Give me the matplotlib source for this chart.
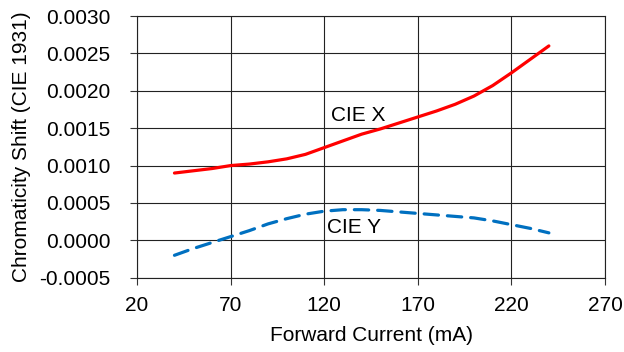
import matplotlib
matplotlib.use("Agg")
import matplotlib.pyplot as plt

current_ma = [40, 50, 60, 70, 80, 90, 100, 110, 120, 130, 140, 150, 160, 170, 180, 190, 200, 210, 220, 230, 240]
cie_x = [0.00090, 0.00093, 0.00096, 0.00100, 0.00102, 0.00105, 0.00109, 0.00115, 0.00124, 0.00133,
         0.00142, 0.00149, 0.00157, 0.00165, 0.00173, 0.00182, 0.00193, 0.00207, 0.00224, 0.00242, 0.00260]
cie_y = [-0.00020, -0.00011, -0.00003, 0.00005, 0.00013, 0.00022, 0.00029, 0.00035, 0.00039, 0.00041,
         0.00041, 0.00040, 0.00038, 0.00036, 0.00034, 0.00032, 0.00030, 0.00026, 0.00021, 0.00016, 0.00010]
x_ticks = [20, 70, 120, 170, 220, 270]
y_ticks = [-0.0005, 0.0000, 0.0005, 0.0010, 0.0015, 0.0020, 0.0025, 0.0030]

plt.rcParams['font.family'] = ['Liberation Sans', 'DejaVu Sans']
fig = plt.figure(figsize=(6.24, 3.52), dpi=100)
ax = fig.add_axes([0.2196, 0.2110, 0.75, 0.7435])

ax.plot(current_ma, cie_x, color='#ff0000', lw=2.3, solid_capstyle='round', solid_joinstyle='round')
ax.plot(current_ma, cie_y, color='#0070c0', lw=2.3, dashes=(4.5, 2.8), dash_capstyle='round')

ax.set_xlim(20, 270)
ax.set_ylim(-0.0005, 0.0030)
ax.set_xticks(x_ticks)
ax.set_yticks(y_ticks)
ax.set_yticklabels([f"{v:.4f}" for v in y_ticks])
ax.tick_params(axis='both', labelsize=15, length=5, width=0.8, color='#333333', direction='out')
ax.tick_params(axis='y', pad=14)
ax.tick_params(axis='x', pad=8)
ax.grid(True, color='#222222', lw=0.8)
ax.set_axisbelow(True)
for s in ax.spines.values():
    s.set_color('#222222')
    s.set_linewidth(0.8)

ax.text(123.5, 0.00167, "CIE X", fontsize=15, va='center', ha='left')
ax.text(121.5, 0.00017, "CIE Y", fontsize=15, va='center', ha='left')

ax.set_xlabel("Forward Current (mA)", fontsize=15, labelpad=8)
ax.set_ylabel("Chromaticity Shift (CIE 1931)", fontsize=15, labelpad=6)

fig.savefig("out.png", dpi=100)
